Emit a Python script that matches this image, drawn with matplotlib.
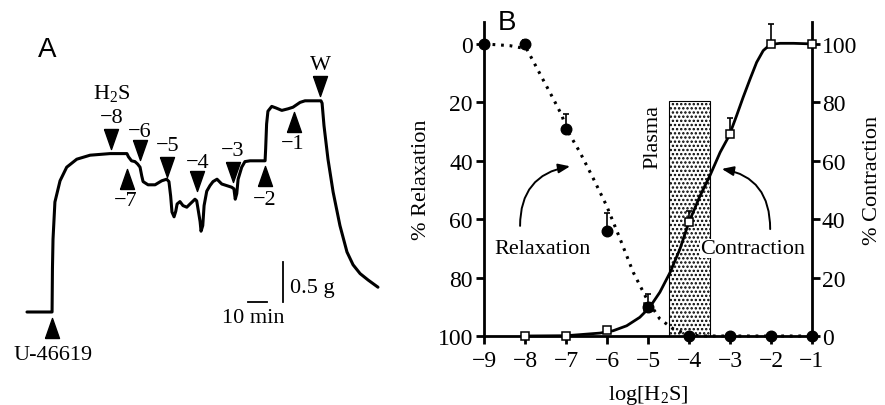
import matplotlib.pyplot as plt
from matplotlib.markers import MarkerStyle

plt.rcParams['font.family'] = ['Liberation Serif', 'DejaVu Serif']
plt.rcParams['mathtext.fontset'] = 'custom'
plt.rcParams['mathtext.rm'] = 'Liberation Serif'
plt.rcParams['mathtext.it'] = 'Liberation Serif:italic'
plt.rcParams['hatch.linewidth'] = 1.15

# ---- panel A: isometric tension trace (minutes, grams) ----
trace_t = [0, 13.2, 13.4, 13.7, 14.7, 17.4, 20.9, 26.2, 33.2, 43.7, 52.6,
           53.4, 55.0, 56.8, 58.2, 59.5, 60.4, 61.1, 63.7, 67.4, 70.9, 73.5, 74.7,
           75.6, 76.3, 77.4, 78.3, 79.0, 80.5, 82.1, 84.1, 85.8, 88.4, 89.3, 90.0,
           91.1, 91.6, 92.5, 93.2, 94.6, 96.3, 97.9, 100.0, 102.5, 105.1, 107.7,
           108.9, 109.6, 110.4, 111.1, 113.0, 114.7, 117.4, 125.3, 125.6, 126.1,
           126.8, 128.8, 131.1, 134.1, 137.4, 140.0, 143.7, 146.3, 154.7, 155.3,
           156.3, 158.4, 161.1, 164.7, 168.4, 171.6, 175.3, 179.5, 184.7]
trace_g = [0, 0, 0.54, 0.91, 1.375, 1.64, 1.81, 1.91, 1.96, 1.98, 1.98,
           1.94, 1.89, 1.88, 1.85, 1.81, 1.70, 1.63, 1.59, 1.59, 1.64, 1.66, 1.63,
           1.45, 1.25, 1.19, 1.26, 1.35, 1.38, 1.33, 1.31, 1.35, 1.41, 1.39, 1.29,
           1.13, 1.01, 1.08, 1.33, 1.51, 1.58, 1.63, 1.66, 1.60, 1.58, 1.56,
           1.54, 1.41, 1.48, 1.66, 1.81, 1.88, 1.89, 1.89, 2.04, 2.35,
           2.51, 2.57, 2.55, 2.52, 2.54, 2.56, 2.62, 2.64, 2.64, 2.61,
           2.33, 1.91, 1.50, 1.08, 0.75, 0.59, 0.48, 0.40, 0.31]

# additions: label, time, arrow y, arrow direction, label position
add_labels = ['U-46619', '−8', '−7', '−6', '−5', '−4', '−3', '−2', '−1', 'W']
add_t = [13.2, 44.1, 52.5, 59.5, 73.8, 89.3, 108.6, 125.3, 140.5, 154.2]
arrow_g = [-0.20, 2.16, 1.66, 2.03, 1.81, 1.64, 1.75, 1.70, 2.38, 2.83]
arrow_up = [True, False, True, False, False, False, False, True, True, False]
label_t = [13.7, 44.6, 52.1, 59.5, 73.8, 89.6, 108.3, 125.3, 140.0, 154.2]
label_g = [-0.53, 2.43, 1.39, 2.26, 2.08, 1.87, 2.02, 1.41, 2.11, 3.10]

# ---- panel B: concentration-response ----
log_h2s = [-9, -8, -7, -6, -5, -4, -3, -2, -1]
relax_mean = [0, 0, 29, 64, 90, 100, 100, 100, 100]
relax_err = [0, 1.5, 5, 6, 4.4, 0, 0, 0, 0]

contr_x = [-8, -7, -6, -5, -4, -3, -2, -1]
contr_mean = [0, 0, 2, 10, 39, 69, 100, 100]
contr_err = [0, 0, 0, 0, 3.8, 5.8, 6.8, 0]

# fitted curves as drawn in the figure
relax_fit_x = [-9, -8.37, -7.96, -7.80, -7.55, -7.31, -7.10, -6.99, -6.66, -6.33, -6.01,
               -5.68, -5.36, -5.03, -4.71, -4.38, -4.06, -3.73, -1]
relax_fit_y = [0, 0.6, 1.7, 5.9, 12.5, 18.8, 24.5, 29.1, 37.1, 46.2, 55.4,
               66.8, 78.2, 87.3, 94.2, 97.6, 99.3, 100, 100]
contr_fit_x = [-8, -6.99, -6.17, -5.85, -5.52, -5.20, -4.96, -4.71, -4.46, -4.22, -4.01,
               -3.73, -3.49, -3.24, -3.02, -2.84, -2.68, -2.51, -2.35, -2.19, -2.02,
               -1.78, -1.45, -1]
contr_fit_y = [0, 0.1, 1.0, 1.8, 3.5, 6.4, 9.8, 15, 21.8, 29.8, 38.7,
               48.0, 54.9, 62.9, 68.6, 75.4, 81.7, 88.0, 93.7, 97.7, 99.8,
               100.2, 100.2, 100]

plasma_range = (-4.5, -3.5)
plasma_top = 80.5  # in % contraction units

fig = plt.figure(figsize=(8.85, 4.06), dpi=100)

# panel A
axa = fig.add_axes([0, 0, 400 / 885, 1])
axa.set_xlim(-14.2, 196.3)
axa.set_ylim(-1.1625, 3.9125)
axa.axis('off')
axa.plot(trace_t, trace_g, color='k', lw=2.2, solid_joinstyle='round', solid_capstyle='round')

tri_down = MarkerStyle([(-0.7, 1), (0.7, 1), (0, -1), (-0.7, 1)])
tri_up = MarkerStyle([(-0.7, -1), (0.7, -1), (0, 1), (-0.7, -1)])
for lab, t, g, up, lt, lg in zip(add_labels, add_t, arrow_g, arrow_up, label_t, label_g):
    axa.plot(t, g, marker=tri_up if up else tri_down, ms=14.4, color='k', mec='k')
    axa.text(lt, lg, lab, ha='center', va='center', fontsize=16)
axa.text(44.6, 2.75, r'H$_\mathrm{2}$S', ha='center', va='center', fontsize=16)

# scale bars
axa.plot([134.7, 134.7], [0.125, 0.625], color='k', lw=1.3)
axa.plot([116.3, 126.3], [0.125, 0.125], color='k', lw=1.3)
axa.text(138.4, 0.30, '0.5 g', ha='left', va='center', fontsize=16)
axa.text(118.9, -0.07, '10 min', ha='center', va='center', fontsize=16)
fig.text(46.7 / 885, 1 - 49.7 / 406, 'A', ha='center', va='center',
         family='Liberation Sans', fontsize=20)

# panel B
axc = fig.add_axes([484 / 885, 69 / 406, 328 / 885, 314 / 406])
axr = axc.twinx()
axc.yaxis.tick_right()
axc.yaxis.set_label_position('right')
axr.yaxis.tick_left()
axr.yaxis.set_label_position('left')

axc.set_xlim(-9, -1)
axc.set_ylim(0, 107.5)
axr.set_ylim(100, -7.5)

for s in ['top', 'left']:
    axc.spines[s].set_visible(False)
for s in ['top', 'right', 'bottom']:
    axr.spines[s].set_visible(False)
for a in (axc, axr):
    for s in a.spines.values():
        s.set_linewidth(2)

axc.bar((plasma_range[0] + plasma_range[1]) / 2, plasma_top,
        width=plasma_range[1] - plasma_range[0], bottom=0,
        facecolor='white', edgecolor='k', hatch='....', lw=0.8, zorder=1)

axc.plot(contr_fit_x, contr_fit_y, color='k', lw=2, zorder=3, clip_on=False)
axc.errorbar(contr_x, contr_mean, yerr=[[0] * len(contr_err), contr_err], fmt='none',
             ecolor='k', elinewidth=1.2, capsize=2.5, capthick=1.2, zorder=3)
axc.plot(contr_x, contr_mean, 's', ms=6.0, mfc='white', mec='k', mew=1.1,
         zorder=4, clip_on=False)

axr.plot(relax_fit_x, relax_fit_y, color='k', lw=2.2, ls=(0, (0.9, 1.9)), zorder=3,
         clip_on=False)
axr.errorbar(log_h2s, relax_mean, yerr=[relax_err, [0] * len(relax_err)], fmt='none',
             ecolor='k', elinewidth=1.2, capsize=2.5, capthick=1.2, zorder=3)
axr.plot(log_h2s, relax_mean, 'o', ms=7.6, color='k', zorder=4, clip_on=False)

axc.set_xticks(log_h2s)
axc.set_yticks([0, 20, 40, 60, 80, 100])
axr.set_yticks([0, 20, 40, 60, 80, 100])
axc.tick_params(axis='x', direction='out', length=6, width=2, labelsize=17, pad=4)
axc.tick_params(axis='y', direction='out', length=6, width=2, labelsize=17, pad=1)
axr.tick_params(axis='y', direction='out', length=6, width=2, labelsize=17, pad=2)

axc.set_xlabel(r'log[H$_\mathrm{2}$S]', fontsize=16, labelpad=9)
axr.set_ylabel('% Relaxation', fontsize=16, labelpad=5)
axc.set_ylabel('% Contraction', fontsize=16, labelpad=4)

axr.text(-4.88, 31.5, 'Plasma', rotation=90, ha='center', va='center', fontsize=16)
axr.text(-7.56, 70.2, 'Relaxation', ha='center', va='center', fontsize=16)
axr.text(-2.46, 70.2, 'Contraction', ha='center', va='center', fontsize=16,
         bbox=dict(fc='white', ec='none', pad=0))
axr.annotate('', xy=(-6.90, 41.9), xytext=(-8.12, 62.3),
             arrowprops=dict(arrowstyle='-|>,head_length=0.7,head_width=0.28',
                             connectionstyle='angle3,angleA=90,angleB=10',
                             color='k', lw=1.4, shrinkA=0, shrinkB=0))
axr.annotate('', xy=(-3.20, 42.8), xytext=(-2.02, 63.4),
             arrowprops=dict(arrowstyle='-|>,head_length=0.7,head_width=0.28',
                             connectionstyle='angle3,angleA=90,angleB=-10',
                             color='k', lw=1.4, shrinkA=0, shrinkB=0))

fig.text(507 / 885, 1 - 23 / 406, 'B', ha='center', va='center',
         family='Liberation Sans', fontsize=20)

fig.savefig('out.png', dpi=100)
